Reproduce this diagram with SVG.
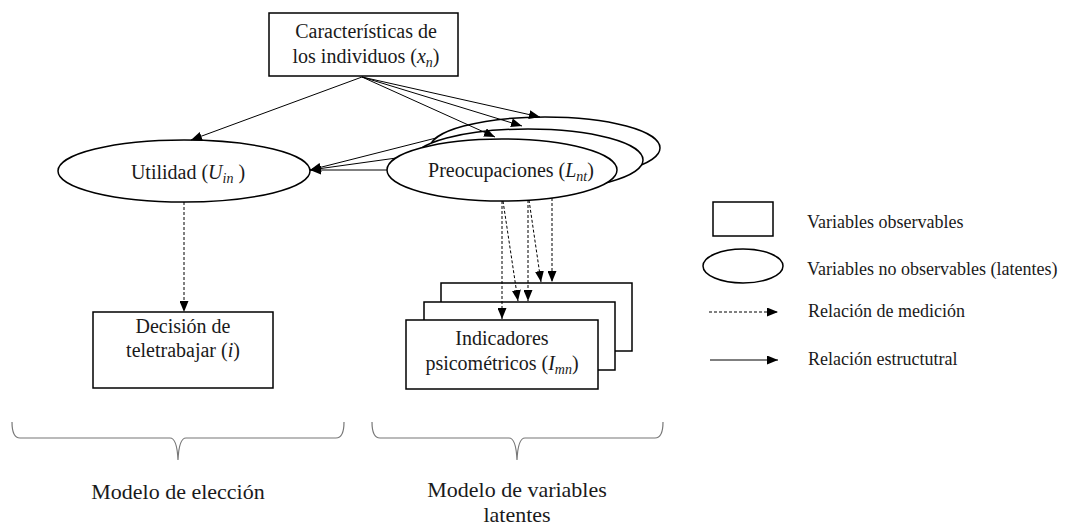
<svg xmlns="http://www.w3.org/2000/svg" width="1066" height="527" viewBox="0 0 1066 527">
<style>
  .bg{fill:#fff}
  .node{fill:#fff;stroke:#000;stroke-width:1.5}
  .t{font-family:"Liberation Serif","Times New Roman",serif;fill:#1a1a1a}
  .n20{font-size:20px}
  .lg{font-size:18px}
  .bt{font-size:22px}
  .i{font-style:italic}
  .sub{font-size:14px;font-style:italic}
  .solid{stroke:#000;stroke-width:1;fill:none}
  .dash{stroke:#000;stroke-width:1;fill:none;stroke-dasharray:3 2}
  .brace{stroke:#777;stroke-width:1.2;fill:none}
</style>
<defs>
  <marker id="ah" viewBox="0 0 11 9" refX="11" refY="4.5" markerWidth="11" markerHeight="9" orient="auto" markerUnits="userSpaceOnUse">
    <path d="M0,0 L11,4.5 L0,9 z" fill="#000"/>
  </marker>
</defs>
<rect class="bg" x="0" y="0" width="1066" height="527"/>

<!-- connectors partly hidden under latent ellipses -->
<g id="connectors-back">
  <line class="solid" x1="387" y1="170" x2="310" y2="170" marker-end="url(#ah)"/>
  <line class="solid" x1="400" y1="157.5" x2="310" y2="170" marker-end="url(#ah)"/>
  <line class="solid" x1="440" y1="137" x2="310" y2="170" marker-end="url(#ah)"/>
</g>

<g id="node-caracteristicas">
  <rect class="node" x="269" y="13" width="189" height="63"/>
  <text class="t n20" x="366" y="38" text-anchor="middle">Características de</text>
  <text class="t n20" x="366" y="63" text-anchor="middle">los individuos (<tspan class="i">x</tspan><tspan class="sub" dy="4">n</tspan><tspan dy="-4">)</tspan></text>
</g>

<g id="node-utilidad">
  <ellipse class="node" cx="184" cy="171" rx="126" ry="31"/>
  <text class="t n20" x="188" y="179" text-anchor="middle">Utilidad (<tspan class="i">U</tspan><tspan class="sub" dy="4">in</tspan><tspan dy="-4"> )</tspan></text>
</g>

<g id="node-preocupaciones">
  <ellipse class="node" cx="545" cy="148" rx="115" ry="31"/>
  <ellipse class="node" cx="528" cy="160" rx="115" ry="31"/>
  <ellipse class="node" cx="502" cy="170" rx="115" ry="31"/>
  <text class="t n20" x="511" y="177" text-anchor="middle">Preocupaciones (<tspan class="i">L</tspan><tspan class="sub" dy="4">nt</tspan><tspan dy="-4">)</tspan></text>
</g>

<g id="node-decision">
  <rect class="node" x="93" y="312" width="180" height="76"/>
  <text class="t n20" x="183" y="333" text-anchor="middle">Decisión de</text>
  <text class="t n20" x="183" y="357" text-anchor="middle">teletrabajar (<tspan class="i">i</tspan>)</text>
</g>

<g id="node-indicadores">
  <rect class="node" x="441" y="283" width="191" height="68"/>
  <rect class="node" x="424" y="302" width="191" height="68"/>
  <rect class="node" x="406" y="320" width="192" height="69"/>
  <text class="t n20" x="502" y="345" text-anchor="middle">Indicadores</text>
  <text class="t n20" x="502" y="370" text-anchor="middle">psicométricos (<tspan class="i">I</tspan><tspan class="sub" dy="4">mn</tspan><tspan dy="-4">)</tspan></text>
</g>

<g id="connectors">
  <line class="solid" x1="362" y1="77" x2="191" y2="140" marker-end="url(#ah)"/>
  <line class="solid" x1="362" y1="77" x2="540" y2="117" marker-end="url(#ah)"/>
  <line class="solid" x1="362" y1="77" x2="522" y2="126" marker-end="url(#ah)"/>
  <line class="solid" x1="362" y1="77" x2="495" y2="137" marker-end="url(#ah)"/>
  <line class="dash" x1="184" y1="202" x2="184" y2="312" marker-end="url(#ah)"/>
  <line class="dash" x1="502" y1="201" x2="502" y2="319" marker-end="url(#ah)"/>
  <line class="dash" x1="503" y1="201" x2="518" y2="301" marker-end="url(#ah)"/>
  <line class="dash" x1="528" y1="200" x2="528" y2="301" marker-end="url(#ah)"/>
  <line class="dash" x1="529" y1="200" x2="541" y2="282" marker-end="url(#ah)"/>
  <line class="dash" x1="552" y1="198" x2="552" y2="282" marker-end="url(#ah)"/>
</g>

<g id="legend">
  <rect class="node" x="713" y="202" width="60" height="34"/>
  <text class="t lg" x="807" y="228">Variables observables</text>
  <ellipse class="node" cx="743" cy="266" rx="40" ry="17"/>
  <text class="t lg" x="807" y="275">Variables no observables (latentes)</text>
  <line class="dash" x1="709" y1="312" x2="778" y2="312" marker-end="url(#ah)"/>
  <text class="t lg" x="808" y="317">Relación de medición</text>
  <line class="solid" x1="710" y1="360" x2="778" y2="360" marker-end="url(#ah)"/>
  <text class="t lg" x="808" y="365">Relación estructutral</text>
</g>

<g id="braces">
  <path class="brace" d="M12,422 Q12,438 20,438 L170,438 Q177,438 178,460 Q179,438 186,438 L336,438 Q344,438 344,422"/>
  <text class="t bt" x="178" y="499" text-anchor="middle">Modelo de elección</text>
  <path class="brace" d="M372,422 Q372,438 380,438 L509,438 Q516,438 517,460 Q518,438 525,438 L655,438 Q663,438 663,422"/>
  <text class="t bt" x="517" y="497" text-anchor="middle">Modelo de variables</text>
  <text class="t bt" x="517" y="522" text-anchor="middle">latentes</text>
</g>
</svg>
